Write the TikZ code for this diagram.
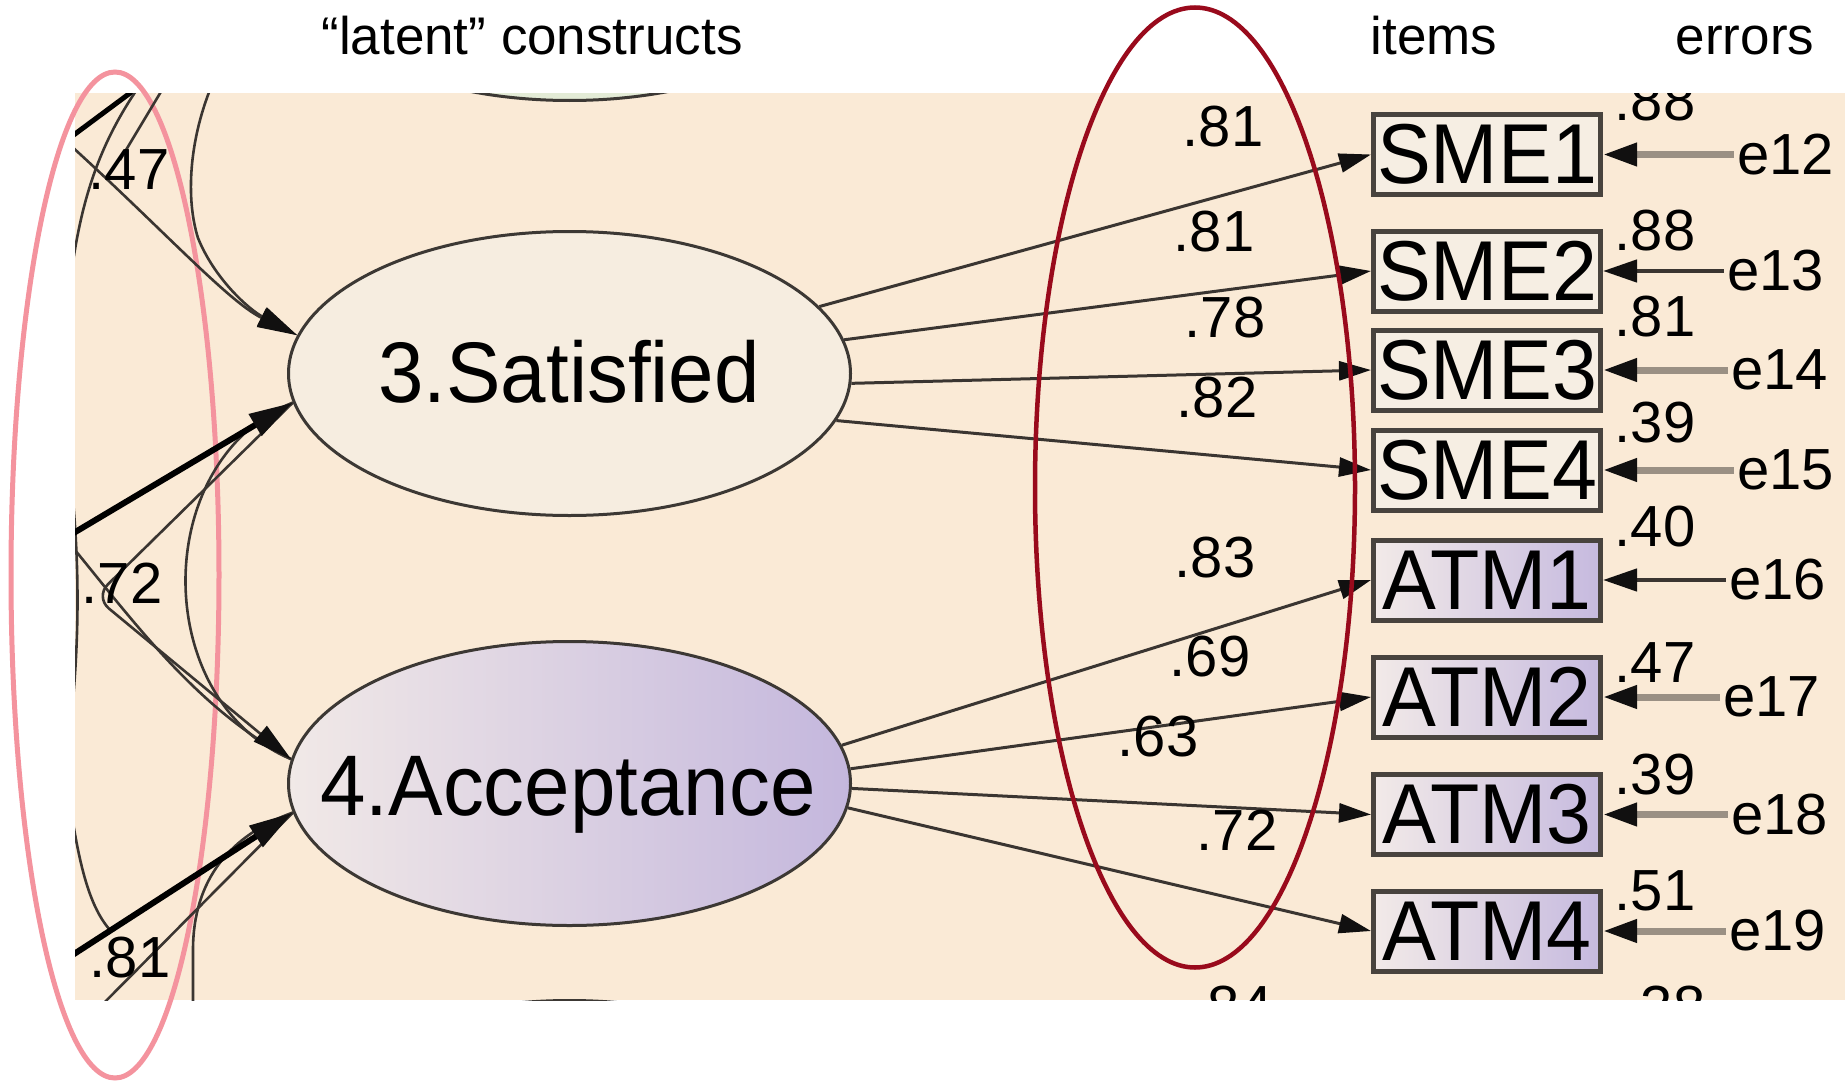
\documentclass[tikz,border=0pt]{standalone}
\usepackage{fontspec}
\setmainfont{Liberation Sans}
\newfontfamily\amosfont[FakeStretch=0.95]{Liberation Sans}
\usetikzlibrary{arrows.meta,shapes.geometric}
\definecolor{bgbeige}{HTML}{FAEAD6}
\definecolor{linedark}{HTML}{3A3531}
\definecolor{tipdark}{HTML}{111010}
\definecolor{errgray}{HTML}{9A9084}
\definecolor{boxborder}{HTML}{48433E}
\definecolor{ellborder}{HTML}{3C3834}
\definecolor{smefill}{HTML}{F6EEE3}
\definecolor{atmleft}{HTML}{F2EAE8}
\definecolor{atmright}{HTML}{C6BADF}
\definecolor{satfill}{HTML}{F6EDE0}
\definecolor{accleft}{HTML}{F1E9E7}
\definecolor{accright}{HTML}{C4B7DD}
\definecolor{topfill}{HTML}{E3EBD6}
\definecolor{pinkring}{HTML}{F4939E}
\definecolor{redring}{HTML}{990A1C}
\newcommand\amosBig{\amosfont\fontsize{86}{92}\selectfont}
\newcommand\amosBox{\amosfont\fontsize{85}{92}\selectfont}
\newcommand\amosSmall{\fontsize{58}{62}\selectfont}
\newcommand\topFont{\fontsize{53}{60}\selectfont}
\tikzset{
  latent/.style={ellipse, draw=ellborder, line width=3pt, minimum width=562pt, minimum height=284pt, inner sep=0pt},
  biglab/.style={font=\amosBig, text=black, inner sep=0pt, anchor=base},
  itembox/.style={rectangle, draw=boxborder, line width=5pt, minimum width=227pt, minimum height=80pt, inner sep=0pt, font=\amosBox, text=black},
  smebox/.style={itembox, fill=smefill},
  atmbox/.style={itembox, left color=atmleft, right color=atmright},
  smalllab/.style={font=\amosSmall, text=black, inner sep=1pt},
  errlab/.style={font=\amosSmall, text=black, inner sep=3pt, anchor=east},
  toplab/.style={font=\topFont, text=black, anchor=base, inner sep=0pt},
  loadline/.style={draw=linedark, line width=3pt, -{Triangle[length=32pt,width=19pt,color=tipdark]}},
  errline/.style={draw=errgray, line width=7pt, -{Triangle[length=34pt,width=22pt,color=tipdark]}},
  errdark/.style={draw=linedark, line width=4.5pt, -{Triangle[length=34pt,width=22pt,color=tipdark]}},
  covthin/.style={draw=linedark, line width=2.6pt},
  covthick/.style={draw=black, line width=6pt},
  covtip/.style={-{Triangle[length=40pt,width=20pt,color=tipdark]}},
  bigtip/.style={-{Triangle[length=44pt,width=24pt,color=tipdark]}},
}
\begin{document}
\begin{tikzpicture}[x=1pt,y=-1pt]
\useasboundingbox (0,0) rectangle (1845,1081);
\fill[white] (0,0) rectangle (1845,1081);
\fill[bgbeige] (75,93) rectangle (1845,1000);
% pink ring (behind the AMOS lines)
\draw[pinkring, line width=5pt] (115,575) ellipse [x radius=104pt, y radius=503pt];
\begin{scope}
\clip (75,93) rectangle (1845,1000);
% latent constructs
\node[latent, fill=topfill] (lat2) at (569.5,-41.5) {};
\node[latent, fill=satfill] (sat) at (569.5,373.5) {};
\node[latent, left color=accleft, right color=accright] (acc) at (569.5,783.5) {};
\node[latent, fill=satfill] (lat5) at (569.5,1142.5) {};
\node[biglab] (satlab) at (569,402) {3.Satisfied};
\node[biglab] (acclab) at (568,815) {4.Acceptance};
% items
\node[smebox] (sme1) at (1487,154.5) {SME1};
\node[smebox] (sme2) at (1487,271) {SME2};
\node[smebox] (sme3) at (1487,370) {SME3};
\node[smebox] (sme4) at (1487,470) {SME4};
\node[atmbox] (atm1) at (1487,580) {ATM1};
\node[atmbox] (atm2) at (1487,697) {ATM2};
\node[atmbox] (atm3) at (1487,814.5) {ATM3};
\node[atmbox] (atm4) at (1487,931) {ATM4};
% errors
\node[errlab] (e12) at (1837,154.5) {e12};
\node[errlab] (e13) at (1827,271) {e13};
\node[errlab] (e14) at (1831,370) {e14};
\node[errlab] (e15) at (1837,470) {e15};
\node[errlab] (e16) at (1829,580) {e16};
\node[errlab] (e17) at (1823,697) {e17};
\node[errlab] (e18) at (1831,814.5) {e18};
\node[errlab] (e19) at (1829,931) {e19};
\draw[errline] (e12) -- (sme1);
\draw[errdark] (e13) -- (sme2);
\draw[errline] (e14) -- (sme3);
\draw[errline] (e15) -- (sme4);
\draw[errdark] (e16) -- (atm1);
\draw[errline] (e17) -- (atm2);
\draw[errline] (e18) -- (atm3);
\draw[errline] (e19) -- (atm4);
% variances
\node[smalllab] (v1) at (1655,101) {.88};
\node[smalllab] (v2) at (1655,231) {.88};
\node[smalllab] (v3) at (1655,317) {.81};
\node[smalllab] (v4) at (1655,423) {.39};
\node[smalllab] (v5) at (1655,527) {.40};
\node[smalllab] (v6) at (1655,663) {.47};
\node[smalllab] (v7) at (1655,775) {.39};
\node[smalllab] (v8) at (1655,891) {.51};
\node[smalllab] (v9) at (1665,1007) {.38};
% loadings
\draw[loadline] (sat.15) -- (sme1.west);
\draw[loadline] (sat.7) -- (sme2.west);
\draw[loadline] (sat.-2) -- (sme3.west);
\draw[loadline] (sat.-10) -- (sme4.west);
\draw[loadline] (acc.8) -- (atm1.west);
\draw[loadline] (acc.3) -- (atm2.west);
\draw[loadline] (acc.-1) -- (atm3.west);
\draw[loadline] (acc.-5) -- (atm4.west);
\node[smalllab] (l1) at (1223,127) {.81};
\node[smalllab] (l2) at (1214,232) {.81};
\node[smalllab] (l3) at (1225,318) {.78};
\node[smalllab] (l4) at (1217,398) {.82};
\node[smalllab] (l5) at (1215,558) {.83};
\node[smalllab] (l6) at (1210,657) {.69};
\node[smalllab] (l7) at (1158,737) {.63};
\node[smalllab] (l8) at (1237,830) {.72};
\node[smalllab] (l9) at (1232,1007) {.84};
% covariance arcs on the left
\coordinate (tl1) at (40,118);
\coordinate (tl2) at (214,80);
\coordinate (tl3) at (40,160);
\coordinate (tl4) at (180,56);
\coordinate (tl5) at (120,160);
\coordinate (tl6) at (165,85);
\coordinate (ml1) at (40,553);
\coordinate (ml2) at (95,597);
\coordinate (ml3) at (75,550);
\coordinate (bl1) at (40,976);
\coordinate (bl2) at (193,1010);
\coordinate (bl3) at (92,1015);
\draw[covthin, covtip] (tl1) .. controls (150,215) and (225,300) .. (sat.172);
\draw[covthin, covtip] (tl2) .. controls (188,140) and (186,200) .. (198,238) .. controls (215,280) and (250,310) .. (sat.172);
\draw[covthick, line width=5pt] (tl3) -- (tl4);
\draw[covthin] (tl5) -- (tl6);
\draw[covthin] (140,85) .. controls (95,150) and (78,210) .. (68,300);
\draw[covthin] (70,470) .. controls (80,560) and (80,640) .. (70,730);
\draw[covthin] (68,790) .. controls (78,860) and (88,905) .. (110,930) -- (acc.186);
\draw[covthin] (sat.186) .. controls (150,460) and (150,700) .. (acc.175);
\draw[covthin] (ml3) .. controls (140,630) and (200,710) .. (acc.175);
\draw[covthin, covtip, rounded corners=18pt] (sat.186) -- (ml2) -- (acc.175);
\draw[covthick, bigtip] (ml1) -- (sat.186);
\draw[covthin] (acc.186) .. controls (230,835) and (193,880) .. (193,950) -- (bl2);
\draw[covthin] (acc.186) -- (bl3);
\draw[covthick, bigtip] (bl1) -- (acc.186);
\node[smalllab] (c47) at (129,170) {.47};
\node[smalllab] (c72) at (122,583) {.72};
\node[smalllab] (c81) at (130,958) {.81};
\end{scope}
% red ring
\draw[redring, line width=4.5pt] (1195,487.5) ellipse [x radius=160pt, y radius=480pt];
% headings
\node[toplab] (tlat) at (532,55) {“latent” constructs};
\node[toplab] (titems) at (1434,55) {items};
\node[toplab] (terrors) at (1745,55) {errors};
\end{tikzpicture}
\end{document}
